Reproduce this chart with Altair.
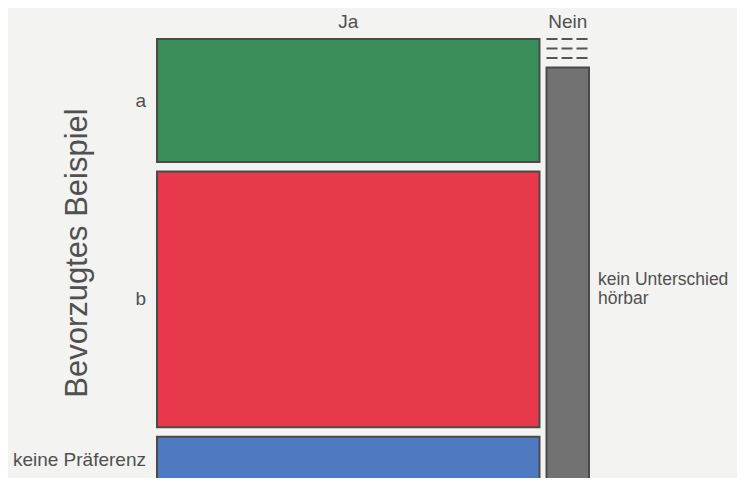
import altair as alt
import pandas as pd

columns = ["Ja", "Nein"]
rows = ["a", "b", "keine Präferenz", "kein Unterschied hörbar"]
counts = {
    "Ja": [26, 54, 10, 0],
    "Nein": [0, 0, 0, 10],
}
row_colors = ["#3a8c58", "#e8384c", "#4f79c0", "#727272"]

GX = 0.0165   # horizontal gap between columns (fraction)
GY = 0.0223   # vertical gap between cells (fraction)

total = sum(sum(v) for v in counts.values())
cells = []
xcur = 0.0
for c in columns:
    ctot = sum(counts[c])
    w = ctot / total
    ycur = 0.0
    for r, n, col in zip(rows, counts[c], row_colors):
        h = n / ctot
        cells.append(dict(col=c, row=r, n=n, x=xcur, x2=xcur + w,
                          y=ycur, y2=ycur + h, ym=ycur + h / 2,
                          xm=xcur + w / 2, color=col))
        ycur += h + GY
    xcur += w + GX
df = pd.DataFrame(cells)
df_pos = df[df.n > 0]
df_zero = df[df.n == 0]

xs = alt.Scale(domain=[0, 1 + GX], range=[149, 581])
ys = alt.Scale(domain=[0, 1 + 3 * GY], range=[31, 485.5])

rects = alt.Chart(df_pos).mark_rect(stroke="#4a4a4a", strokeWidth=2).encode(
    x=alt.X("x:Q", scale=xs, axis=None),
    x2="x2:Q",
    y=alt.Y("y:Q", scale=ys, axis=None),
    y2="y2:Q",
    color=alt.Color("color:N", scale=None),
)

zeros = alt.Chart(df_zero).mark_rule(
    stroke="#555555", strokeWidth=2, strokeDash=[11, 4]
).encode(
    x=alt.X("x:Q", scale=xs, axis=None),
    x2="x2:Q",
    y=alt.Y("y:Q", scale=ys, axis=None),
)

font = "Liberation Sans"
tcolor = "#505050"
fs = 19

col_df = df.groupby("col", as_index=False).agg(x=("x", "first"), x2=("x2", "first"))
col_df["xm"] = (col_df.x + col_df.x2) / 2
col_labels = alt.Chart(col_df).mark_text(
    font=font, fontSize=fs, color=tcolor, baseline="middle"
).encode(
    x=alt.X("xm:Q", scale=xs, axis=None),
    y=alt.value(14),
    text="col:N",
)

ja_rows = df[(df.col == "Ja") & (df.n > 0)]
row_labels = alt.Chart(ja_rows).mark_text(
    font=font, fontSize=fs, color=tcolor, align="right", baseline="middle", dx=-11
).encode(
    x=alt.X("x:Q", scale=xs, axis=None),
    y=alt.Y("ym:Q", scale=ys, axis=None),
    text="row:N",
)

nein_rows = df[(df.col == "Nein") & (df.n > 0)].copy()
nein_rows["label"] = nein_rows["row"].str.replace("Unterschied ", "Unterschied\n")
right_labels = alt.Chart(nein_rows).mark_text(
    font=font, fontSize=17.5, color=tcolor, align="left", baseline="middle",
    dx=9, lineBreak="\n", lineHeight=19
).encode(
    x=alt.X("x2:Q", scale=xs, axis=None),
    y=alt.Y("ym:Q", scale=ys, axis=None),
    text="label:N",
)

title_df = pd.DataFrame({"t": ["Bevorzugtes Beispiel"]})
title = alt.Chart(title_df).mark_text(
    font=font, fontSize=31, color=tcolor, angle=270, align="center", baseline="middle"
).encode(
    x=alt.value(70),
    y=alt.value(245),
    text="t:N",
)

chart = alt.layer(rects, zeros, col_labels, row_labels, right_labels, title).properties(
    width=729, height=470, background="#f3f3f1",
    autosize=alt.AutoSizeParams(type="none"), padding=0,
).configure_view(stroke=None)

chart.save("out.html", embed_options={"renderer": "svg", "actions": False})
